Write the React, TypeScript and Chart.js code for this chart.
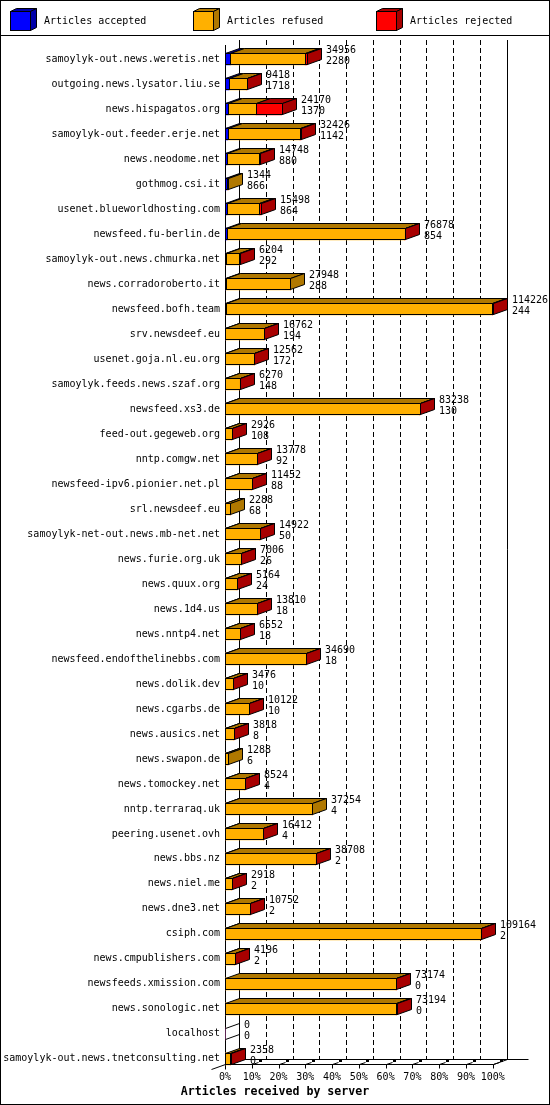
import { useEffect, useRef } from "react";
import { Chart, registerables } from "chart.js";

Chart.register(...registerables);

// ---------- data ----------
const servers = [
  "samoylyk-out.news.weretis.net",
  "outgoing.news.lysator.liu.se",
  "news.hispagatos.org",
  "samoylyk-out.feeder.erje.net",
  "news.neodome.net",
  "gothmog.csi.it",
  "usenet.blueworldhosting.com",
  "newsfeed.fu-berlin.de",
  "samoylyk-out.news.chmurka.net",
  "news.corradoroberto.it",
  "newsfeed.bofh.team",
  "srv.newsdeef.eu",
  "usenet.goja.nl.eu.org",
  "samoylyk.feeds.news.szaf.org",
  "newsfeed.xs3.de",
  "feed-out.gegeweb.org",
  "nntp.comgw.net",
  "newsfeed-ipv6.pionier.net.pl",
  "srl.newsdeef.eu",
  "samoylyk-net-out.news.mb-net.net",
  "news.furie.org.uk",
  "news.quux.org",
  "news.1d4.us",
  "news.nntp4.net",
  "newsfeed.endofthelinebbs.com",
  "news.dolik.dev",
  "news.cgarbs.de",
  "news.ausics.net",
  "news.swapon.de",
  "news.tomockey.net",
  "nntp.terraraq.uk",
  "peering.usenet.ovh",
  "news.bbs.nz",
  "news.niel.me",
  "news.dne3.net",
  "csiph.com",
  "news.cmpublishers.com",
  "newsfeeds.xmission.com",
  "news.sonologic.net",
  "localhost",
  "samoylyk-out.news.tnetconsulting.net",
];

// total articles offered (upper number)
const offered = [
  34956, 9418, 24170, 32426, 14748, 1344, 15498, 76878, 6204, 27948,
  114226, 16762, 12562, 6270, 83238, 2926, 13778, 11452, 2288, 14922,
  7006, 5164, 13810, 6552, 34690, 3476, 10122, 3818, 1288, 8524,
  37254, 16412, 38708, 2918, 10752, 109164, 4196, 73174, 73194, 0,
  2358,
];

// articles accepted (lower number)
const accepted = [
  2280, 1718, 1370, 1142, 880, 866, 864, 854, 292, 288,
  244, 194, 172, 148, 130, 108, 92, 88, 68, 50,
  26, 24, 18, 18, 18, 10, 10, 8, 6, 4,
  4, 4, 2, 2, 2, 2, 2, 0, 0, 0,
  0,
];

// articles rejected (estimated from the bar segments)
const rejected = [
  800, 120, 10900, 480, 150, 0, 900, 260, 40, 0,
  180, 90, 60, 30, 140, 20, 50, 40, 0, 60,
  30, 20, 40, 20, 80, 20, 30, 20, 0, 30,
  0, 40, 90, 10, 30, 120, 20, 150, 150, 0,
  20,
];

const tickValues = [0, 10, 20, 30, 40, 50, 60, 70, 80, 90, 100];
const seriesLabels = ["Articles accepted", "Articles refused", "Articles rejected"];
const axisTitle = "Articles received by server";

// ---------- styles ----------
const FRONT = ["#0000ff", "#ffb000", "#ff0000"];
const DARK = ["#0000a8", "#b07800", "#a80000"];
const MONO = '"DejaVu Sans Mono", "Liberation Mono", monospace';
const DX = 14;
const DY = -5;

const maxOffered = Math.max(...offered);
const pct = (v: number) => (v / maxOffered) * 100;

const acceptedPct = accepted.map(pct);
const refusedPct = offered.map((o, i) => pct(Math.max(0, o - accepted[i] - rejected[i])));
const rejectedPct = rejected.map(pct);

const XMAX = (100 * 325) / 267.7;

const px = (v: number) => Math.round(v) + 0.5;

function line(ctx: CanvasRenderingContext2D, x1: number, y1: number, x2: number, y2: number) {
  ctx.beginPath();
  ctx.moveTo(x1, y1);
  ctx.lineTo(x2, y2);
  ctx.stroke();
}

function poly(ctx: CanvasRenderingContext2D, pts: number[][], fill: string | null) {
  ctx.beginPath();
  pts.forEach((p, k) => (k === 0 ? ctx.moveTo(p[0], p[1]) : ctx.lineTo(p[0], p[1])));
  ctx.closePath();
  if (fill) {
    ctx.fillStyle = fill;
    ctx.fill();
  }
  ctx.stroke();
}

const threeD = {
  id: "threeD",
  beforeDraw(chart: any) {
    const ctx: CanvasRenderingContext2D = chart.ctx;
    const W = chart.width;
    const H = chart.height;
    ctx.save();
    ctx.fillStyle = "#ffffff";
    ctx.fillRect(0, 0, W, H);
    ctx.strokeStyle = "#000";
    ctx.lineWidth = 1;
    ctx.strokeRect(0.5, 0.5, W - 1, H - 1);
    line(ctx, 0, 35.5, W, 35.5);
    // legend
    ctx.font = `10px ${MONO}`;
    ctx.textBaseline = "middle";
    ctx.textAlign = "left";
    seriesLabels.forEach((lab, k) => {
      const bx = 10 + 183 * k;
      const t = 11;
      const b = 30;
      const r = bx + 20;
      const d = 6;
      const e = -3;
      ctx.fillStyle = FRONT[k];
      ctx.fillRect(bx, t, r - bx, b - t);
      ctx.strokeRect(bx + 0.5, t + 0.5, r - bx, b - t);
      poly(ctx, [[bx + 0.5, t + 0.5], [r + 0.5, t + 0.5], [r + d + 0.5, t + e + 0.5], [bx + d + 0.5, t + e + 0.5]], DARK[k]);
      poly(ctx, [[r + 0.5, t + 0.5], [r + d + 0.5, t + e + 0.5], [r + d + 0.5, b + e + 0.5], [r + 0.5, b + 0.5]], DARK[k]);
      ctx.fillStyle = "#000";
      ctx.fillText(lab, bx + 34, 21);
    });
    ctx.restore();
  },
  beforeDatasetsDraw(chart: any) {
    const ctx: CanvasRenderingContext2D = chart.ctx;
    const xs = chart.scales.x;
    const ys = chart.scales.y;
    const firstC = ys.getPixelForValue(0);
    const lastC = ys.getPixelForValue(servers.length - 1);
    const frontFloor = Math.round(lastC + 5) + 0.5;
    const backFloor = frontFloor + DY;
    const wallTop = Math.round(firstC - 19);
    const frontTop = Math.round(firstC - 14);
    const x0 = px(xs.getPixelForValue(0));
    const x100 = px(xs.getPixelForValue(100));
    ctx.save();
    ctx.strokeStyle = "#000";
    ctx.lineWidth = 1;
    // dashed grid on back wall
    ctx.setLineDash([5, 3]);
    tickValues.forEach((v) => {
      if (v === 0 || v === 100) return;
      const x = px(xs.getPixelForValue(v)) + DX;
      line(ctx, x, wallTop, x, backFloor);
    });
    ctx.setLineDash([]);
    // back wall solid verticals
    line(ctx, x0 + DX, wallTop, x0 + DX, backFloor);
    line(ctx, x100 + DX, wallTop, x100 + DX, backFloor);
    // floor
    line(ctx, x0 + DX, backFloor, x100 + DX + 21, backFloor);
    line(ctx, x0, frontFloor, x100, frontFloor);
    line(ctx, x100, frontFloor, x100 + DX, backFloor);
    line(ctx, x0 + DX, backFloor, x0 - 14, frontFloor + 5);
    // front axis
    line(ctx, x0, frontTop, x0, frontFloor + 5);
    // ticks
    ctx.fillStyle = "#000";
    tickValues.forEach((v) => {
      const x = px(xs.getPixelForValue(v));
      line(ctx, x, frontFloor, x, frontFloor + 4);
      if (v > 0) {
        line(ctx, x, frontFloor, x + 6, frontFloor - 2);
        ctx.fillRect(x + 6.5, backFloor - 0.5, 3, 3);
      }
    });
    ctx.restore();
  },
  afterDatasetsDraw(chart: any) {
    const ctx: CanvasRenderingContext2D = chart.ctx;
    const xs = chart.scales.x;
    const ys = chart.scales.y;
    const x0 = Math.round(xs.getPixelForValue(0));
    ctx.save();
    ctx.strokeStyle = "#000";
    ctx.lineWidth = 1;
    ctx.font = `10px ${MONO}`;
    ctx.textBaseline = "middle";
    ctx.textAlign = "left";
    for (let j = 0; j < servers.length; j++) {
      const yc = ys.getPixelForValue(j);
      const yT = Math.round(yc - 6);
      const yB = yT + 11;
      const segs: { i: number; a: number; b: number }[] = [];
      for (let i = 0; i < 3; i++) {
        const v = chart.data.datasets[i].data[j];
        if (!(v > 0)) continue;
        const el = chart.getDatasetMeta(i).data[j];
        segs.push({ i, a: Math.round(el.base), b: Math.round(el.x) });
      }
      let end = x0;
      if (segs.length === 0) {
        line(ctx, x0 + 0.5, yT + 0.5, x0 + DX + 0.5, yT + DY + 0.5);
        line(ctx, x0 + 0.5, yB + 0.5, x0 + DX + 0.5, yB + DY + 0.5);
      } else {
        segs.forEach((s) => {
          ctx.strokeRect(s.a + 0.5, yT + 0.5, s.b - s.a, yB - yT);
          poly(
            ctx,
            [
              [s.a + 0.5, yT + 0.5],
              [s.b + 0.5, yT + 0.5],
              [s.b + DX + 0.5, yT + DY + 0.5],
              [s.a + DX + 0.5, yT + DY + 0.5],
            ],
            DARK[s.i]
          );
        });
        const last = segs[segs.length - 1];
        end = last.b;
        poly(
          ctx,
          [
            [end + 0.5, yT + 0.5],
            [end + DX + 0.5, yT + DY + 0.5],
            [end + DX + 0.5, yB + DY + 0.5],
            [end + 0.5, yB + 0.5],
          ],
          DARK[last.i]
        );
      }
      ctx.fillStyle = "#000";
      ctx.fillText(String(offered[j]), end + DX + 5, yc - 8.5);
      ctx.fillText(String(accepted[j]), end + DX + 5, yc + 2.5);
    }
    ctx.restore();
  },
};

export default function App() {
  const ref = useRef<HTMLCanvasElement>(null);
  useEffect(() => {
    const chart = new Chart(ref.current as HTMLCanvasElement, {
      type: "bar",
      data: {
        labels: servers,
        datasets: [
          { label: seriesLabels[0], data: acceptedPct, backgroundColor: FRONT[0], barThickness: 12, borderWidth: 0 },
          { label: seriesLabels[1], data: refusedPct, backgroundColor: FRONT[1], barThickness: 12, borderWidth: 0 },
          { label: seriesLabels[2], data: rejectedPct, backgroundColor: FRONT[2], barThickness: 12, borderWidth: 0 },
        ],
      },
      options: {
        indexAxis: "y",
        animation: false,
        responsive: false,
        layout: { padding: { top: 46.5, left: 0, right: 0, bottom: 0 } },
        plugins: {
          legend: { display: false },
          tooltip: { enabled: false },
          title: {
            display: true,
            position: "bottom",
            text: axisTitle,
            color: "#000",
            font: { family: MONO, size: 11.6, weight: "bold" },
            padding: { top: 0, bottom: 6 },
          },
        },
        scales: {
          x: {
            type: "linear",
            stacked: true,
            min: 0,
            max: XMAX,
            bounds: "data",
            grid: { display: false, drawTicks: false },
            border: { display: false },
            ticks: {
              padding: 0,
              color: "#000",
              font: { family: MONO, size: 10 },
              maxRotation: 0,
              autoSkip: false,
              callback: (v: any) => `${v}%`,
            },
            afterBuildTicks: (s: any) => {
              s.ticks = tickValues.map((v) => ({ value: v }));
            },
            afterFit: (s: any) => {
              s.height = 13.7;
            },
          },
          y: {
            stacked: true,
            grid: { display: false, drawTicks: false },
            border: { display: false },
            ticks: { padding: 5, color: "#000", font: { family: MONO, size: 10 }, autoSkip: false },
            afterFit: (s: any) => {
              s.width = 225;
            },
          },
        },
      } as any,
      plugins: [threeD],
    });
    return () => chart.destroy();
  }, []);
  return (
    <div style={{ position: "absolute", left: 0, top: 0, width: 550, height: 1105 }}>
      <canvas ref={ref} width={550} height={1105} style={{ display: "block", width: 550, height: 1105 }} />
    </div>
  );
}
